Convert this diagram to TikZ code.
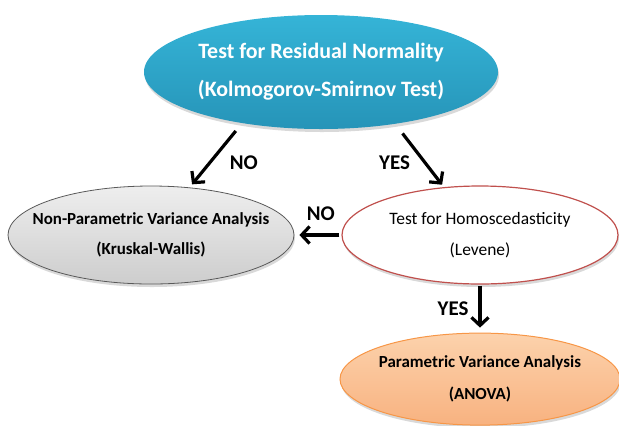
\documentclass[tikz,border=0pt]{standalone}
\usepackage{fontspec}
\setmainfont{Carlito}
\usepackage{xcolor}
\definecolor{BlueTop}{RGB}{53,180,215}
\definecolor{BlueBot}{RGB}{38,148,184}
\definecolor{GrayTop}{RGB}{238,238,238}
\definecolor{GrayBot}{RGB}{205,205,205}
\definecolor{HomRed}{RGB}{192,80,77}
\definecolor{OrTop}{RGB}{252,210,172}
\definecolor{OrBot}{RGB}{248,178,128}
\definecolor{OrLine}{RGB}{247,150,70}
\usetikzlibrary{positioning,arrows.meta,shapes.geometric,shadows}

\begin{document}
\begin{tikzpicture}[x=1bp, y=1bp,
    el/.style={ellipse, inner xsep=-45bp, inner ysep=0pt, align=center,
               drop shadow={shadow xshift=1bp, shadow yshift=-3bp, opacity=0.3}},
    mainq/.style={el, top color=BlueTop, bottom color=BlueBot, text=white,
               minimum width=354bp, minimum height=114bp,
               font=\fontsize{22}{26}\selectfont\bfseries},
    npar/.style={el, draw=black!65, line width=0.8bp, top color=GrayTop, bottom color=GrayBot,
               minimum width=286bp, minimum height=98bp,
               font=\fontsize{17}{20}\selectfont\bfseries},
    homo/.style={el, draw=HomRed, line width=1.2bp, fill=white,
               minimum width=276bp, minimum height=98bp,
               font=\fontsize{17.5}{20}\selectfont},
    par/.style={el, draw=OrLine, line width=1bp, top color=OrTop, bottom color=OrBot,
               minimum width=280bp, minimum height=92bp,
               font=\fontsize{17}{20}\selectfont\bfseries},
    lbl/.style={font=\fontsize{21}{24}\selectfont\bfseries, inner sep=0pt},
    a/.style={-{Straight Barb[length=8bp, width=17bp]}, line width=3.2bp, black}
]
    \useasboundingbox (0,0) rectangle (619,-425);

    \node[mainq] (qn) at (321,-72) {Test for Residual Normality\\[12bp](Kolmogorov-Smirnov Test)};
    \node[homo] (hm) at (480,-235) {Test for Homoscedasticity\\[11bp](Levene)};
    \node[npar, left=47bp of hm] (np) {Non-Parametric Variance Analysis\\[10bp](Kruskal-Wallis)};
    \node[par, below=48bp of hm] (an) {Parametric Variance Analysis\\[12bp](ANOVA)};

    \draw[a, shorten <=10bp, shorten >=4bp] (qn.213) -- node[lbl, xshift=28bp, yshift=-7bp]{NO} (np.51);
    \draw[a, shorten <=12bp, shorten >=3bp] (qn.325) -- node[lbl, xshift=-25bp, yshift=-7bp]{YES} (hm.127);
    \draw[a, shorten <=2bp, shorten >=5bp] (hm.west) -- node[lbl, xshift=3bp, yshift=21bp]{NO} (np.east);
    \draw[a, shorten <=1bp, shorten >=5bp] (hm.south) -- node[lbl, xshift=-27bp]{YES} (an.north);
\end{tikzpicture}
\end{document}
